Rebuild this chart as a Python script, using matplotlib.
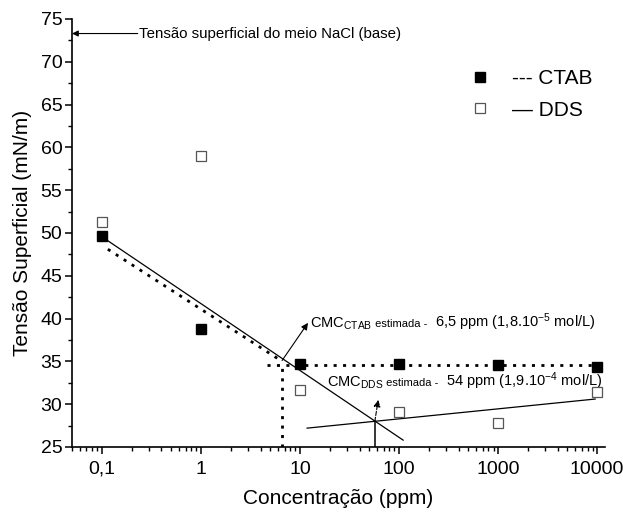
import numpy as np
import matplotlib.pyplot as plt
from matplotlib.ticker import FixedLocator, LogLocator, NullFormatter, AutoMinorLocator

plt.rcParams['font.family'] = ['Liberation Sans', 'DejaVu Sans']
plt.rcParams['mathtext.fontset'] = 'custom'
plt.rcParams['mathtext.rm'] = 'Liberation Sans'
plt.rcParams['mathtext.it'] = 'Liberation Sans:italic'
plt.rcParams['mathtext.bf'] = 'Liberation Sans:bold'

# measured points
conc = [0.1, 1, 10, 100, 1000, 10000]
ctab = [49.7, 38.8, 34.7, 34.7, 34.6, 34.3]
dds = [51.3, 59.0, 31.6, 29.1, 27.8, 31.4]

# guide lines drawn on the original
dds_fit1_x = [0.105, 110]
dds_fit1_y = [49.4, 25.8]
dds_fit2_x = [11.8, 9550]
dds_fit2_y = [27.2, 30.6]
ctab_fit_x = [0.115, 6.6]
ctab_fit_y = [48.1, 35.0]
ctab_plateau_x = [4.6, 10000]
ctab_plateau_y = [34.6, 34.6]
cmc_ctab = 6.6
cmc_dds = 57
base_tension = 73.3

tick_vals = [0.1, 1, 10, 100, 1000, 10000]
tick_labels = ['0,1', '1', '10', '100', '1000', '10000']

fig = plt.figure(figsize=(6.23, 5.13), dpi=100)
ax = fig.add_axes([0.1156, 0.1287, 0.8555, 0.8343])

dot = dict(color='k', lw=2.0, linestyle=(0, (1.1, 2.3)))
ax.plot(ctab_fit_x, ctab_fit_y, **dot)
ax.plot(ctab_plateau_x, ctab_plateau_y, **dot)
ax.plot([cmc_ctab, cmc_ctab], [25, ctab_plateau_y[0]], **dot)

ax.plot(dds_fit1_x, dds_fit1_y, color='k', lw=0.9)
ax.plot(dds_fit2_x, dds_fit2_y, color='k', lw=0.9)
ax.plot([cmc_dds, cmc_dds], [25, 28.0], color='k', lw=1.1)

ax.plot(conc, ctab, 's', color='k', ms=7.5, label='--- CTAB', zorder=4)
ax.plot(conc, dds, 's', mfc='white', mec='#555555', mew=0.9, ms=7.5, label='— DDS', zorder=4)

ax.set_xscale('log')
ax.set_xlim(0.05, 12000)
ax.set_ylim(25, 75)
ax.xaxis.set_major_locator(FixedLocator(tick_vals))
ax.set_xticklabels(tick_labels)
ax.xaxis.set_minor_locator(LogLocator(base=10, subs=np.arange(2, 10)))
ax.xaxis.set_minor_formatter(NullFormatter())
ax.set_yticks(np.arange(25, 76, 5))
ax.yaxis.set_minor_locator(AutoMinorLocator(2))

for s in ['top', 'right']:
    ax.spines[s].set_visible(False)
for s in ['left', 'bottom']:
    ax.spines[s].set_linewidth(1.2)
ax.tick_params(which='major', direction='out', length=5, width=1.1, labelsize=14)
ax.tick_params(axis='y', which='major', pad=2)
ax.tick_params(axis='x', which='major', pad=5)
ax.tick_params(which='minor', direction='out', length=3, width=1.0)

ax.set_xlabel('Concentração (ppm)', fontsize=15, labelpad=8)
ax.set_ylabel('Tensão Superficial (mN/m)', fontsize=15, labelpad=6)

ax.legend(loc='upper left', bbox_to_anchor=(0.745, 0.883), frameon=False, fontsize=15,
          handlelength=1.0, handletextpad=1.05, labelspacing=0.6, borderpad=0,
          borderaxespad=0, numpoints=1)

# base tension arrow
ax.annotate('', xy=(0.05, base_tension), xytext=(0.23, base_tension),
            arrowprops=dict(arrowstyle='-|>', color='k', lw=0.8, mutation_scale=9,
                            shrinkA=0, shrinkB=0), annotation_clip=False)
ax.text(0.235, base_tension, 'Tensão superficial do meio NaCl (base)', fontsize=10.8,
        va='center', ha='left')


def rich(x, y, parts):
    t = ax.text(x, y, parts[0][0], fontsize=parts[0][1], va='baseline', ha='left')
    for s, fs in parts[1:]:
        t = ax.annotate(s, xy=(1, y), xycoords=(t, 'data'), fontsize=fs,
                        va='baseline', ha='left')
    return t


ax.annotate('', xy=(12.05, 39.5), xytext=(cmc_ctab, 35.1),
            arrowprops=dict(arrowstyle='-|>', color='k', lw=0.8, mutation_scale=10,
                            shrinkA=0, shrinkB=0))
rich(12.6, 39.0, [(r'$\mathregular{CMC_{CTAB}}$', 10.5), (' estimada - ', 8),
                  (r' 6,5 ppm (1,8.10$^{\mathregular{-5}}$ mol/L)', 10.5)])

ax.annotate('', xy=(61.6, 30.5), xytext=(cmc_dds, 28.0),
            arrowprops=dict(arrowstyle='-|>', color='k', lw=0.8, mutation_scale=10,
                            linestyle='--', shrinkA=0, shrinkB=0))
rich(18.7, 32.1, [(r'$\mathregular{CMC_{DDS}}$', 10.5), (' estimada - ', 8),
                  (r' 54 ppm (1,9.10$^{\mathregular{-4}}$ mol/L)', 10.5)])

fig.savefig('out.png', dpi=100)
